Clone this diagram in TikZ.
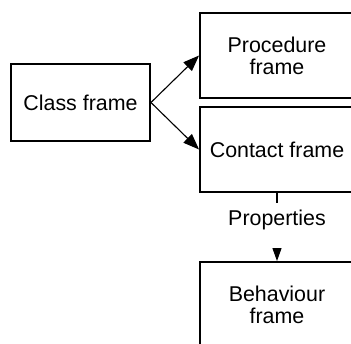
\documentclass[tikz,border=0pt]{standalone}
\usepackage{fontspec}
\setmainfont{Liberation Sans}
\usetikzlibrary{arrows.meta}
\begin{document}
\begin{tikzpicture}[x=1pt,y=-1pt,
  frame/.style={draw, line width=1.9pt, minimum width=154pt, minimum height=85pt,
            align=center, inner sep=0pt, font=\fontsize{21.4}{22}\selectfont},
  link/.style={line width=1.1pt, -{Triangle[length=16pt,width=12pt]}}]
\useasboundingbox (0,0) rectangle (351,343);
\clip (0,0) rectangle (351,343);
\node[frame, minimum width=139pt, minimum height=77pt] (class) at (80.5,102.5) {Class frame};
\node[frame] (proc) at (277,55.5) {Procedure\\frame};
\node[frame] (cont) at (277,149.5) {Contact frame};
\node[frame] (behav) at (277,304.5) {Behaviour\\frame};
\node[inner sep=0pt, text height=22pt, text depth=23pt,
      font=\fontsize{21.4}{22}\selectfont] (props) at (277,225.5) {Properties};
\draw [link] (class.east) -- (proc.west);
\draw [link] (class.east) -- (cont.west);
\draw [line width=1.1pt] (cont.south) -- (props.north);
\draw [line width=1.1pt, -{Triangle[length=13pt,width=9pt]}] (props.south) -- (behav.north);
\end{tikzpicture}
\end{document}
